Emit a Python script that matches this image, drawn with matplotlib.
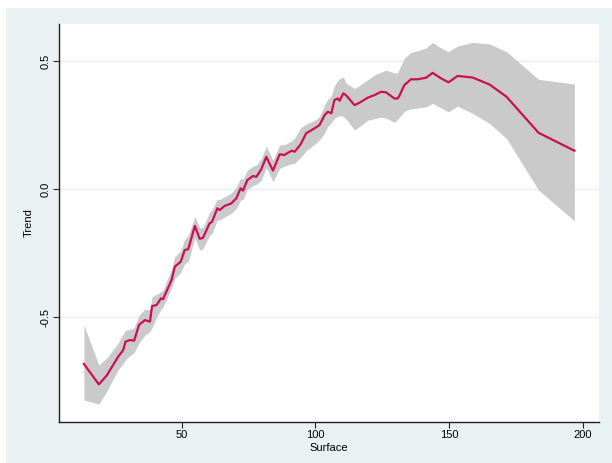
import numpy as np
import matplotlib.pyplot as plt
from matplotlib.patches import Rectangle

plt.rcParams['font.family'] = ['Liberation Sans', 'DejaVu Sans']

# smoothed trend with confidence band
surface = [13.4, 19.0, 21.9, 26.2, 28.1, 29.0, 30.6, 32.2, 34.0, 36.2, 38.1, 38.9, 40.6, 42.2, 43.0,
           46.2, 47.4, 49.6, 51.1, 52.4, 54.9, 56.7, 57.9, 60.4, 61.3, 63.3, 64.2, 66.0, 68.5, 70.4,
           72.0, 72.9, 74.5, 76.6, 77.9, 79.7, 81.6, 84.1, 86.6, 88.4, 89.7, 91.2, 92.2, 94.4, 96.5,
           99.6, 101.5, 103.4, 104.6, 105.9, 107.1, 108.3, 109.0, 110.4, 111.4, 114.6, 116.4, 119.5,
           122.0, 124.5, 126.4, 129.5, 130.7, 131.3, 133.2, 135.7, 138.2, 141.3, 143.8, 146.9, 149.7,
           153.1, 158.7, 165.0, 171.4, 183.4, 196.8]
trend = [-0.682, -0.762, -0.728, -0.654, -0.628, -0.595, -0.589, -0.591, -0.530, -0.511, -0.517,
         -0.456, -0.452, -0.426, -0.429, -0.354, -0.302, -0.283, -0.237, -0.234, -0.143, -0.193,
         -0.190, -0.133, -0.127, -0.074, -0.081, -0.065, -0.055, -0.035, 0.004, -0.005, 0.036,
         0.052, 0.049, 0.078, 0.127, 0.073, 0.137, 0.134, 0.143, 0.151, 0.147, 0.175, 0.219, 0.238,
         0.251, 0.290, 0.303, 0.297, 0.349, 0.355, 0.346, 0.375, 0.368, 0.329, 0.338, 0.358, 0.368,
         0.381, 0.379, 0.355, 0.355, 0.364, 0.407, 0.430, 0.430, 0.436, 0.455, 0.434, 0.418, 0.443,
         0.437, 0.410, 0.362, 0.221, 0.151]
upper = [-0.530, -0.686, -0.660, -0.600, -0.565, -0.550, -0.548, -0.540, -0.492, -0.468, -0.470,
         -0.419, -0.410, -0.400, -0.395, -0.310, -0.263, -0.240, -0.195, -0.180, -0.107, -0.150,
         -0.150, -0.090, -0.080, -0.038, -0.040, -0.029, -0.015, 0.010, 0.043, 0.040, 0.075, 0.090,
         0.095, 0.120, 0.169, 0.114, 0.173, 0.175, 0.182, 0.190, 0.200, 0.240, 0.255, 0.268, 0.285,
         0.330, 0.352, 0.365, 0.405, 0.425, 0.432, 0.440, 0.414, 0.394, 0.405, 0.428, 0.446, 0.458,
         0.466, 0.455, 0.455, 0.470, 0.512, 0.535, 0.542, 0.552, 0.574, 0.552, 0.538, 0.560, 0.574,
         0.568, 0.538, 0.430, 0.411]
lower = [-0.823, -0.839, -0.790, -0.705, -0.680, -0.665, -0.650, -0.638, -0.600, -0.570, -0.556,
         -0.540, -0.500, -0.470, -0.460, -0.385, -0.348, -0.325, -0.290, -0.283, -0.190, -0.238,
         -0.232, -0.180, -0.172, -0.120, -0.120, -0.108, -0.094, -0.075, -0.042, -0.040, 0.000,
         0.015, 0.020, 0.035, 0.085, 0.030, 0.082, 0.090, 0.095, 0.100, 0.101, 0.125, 0.150, 0.175,
         0.193, 0.220, 0.245, 0.260, 0.278, 0.285, 0.288, 0.285, 0.275, 0.232, 0.245, 0.270, 0.276,
         0.282, 0.278, 0.262, 0.273, 0.280, 0.305, 0.315, 0.318, 0.322, 0.336, 0.318, 0.303, 0.325,
         0.297, 0.258, 0.199, -0.003, -0.123]

xticks = [50, 100, 150, 200]
yticks = [-0.5, 0.0, 0.5]
ytick_labels = ['-0.5', '0.0', '0.5']

bg = '#EAF1F3'

fig = plt.figure(figsize=(6.12, 4.63), dpi=100)
fig.patch.set_facecolor('white')
fig.patches.append(Rectangle((6 / 612, 0), 1, 1 - 8 / 463, transform=fig.transFigure,
                             facecolor=bg, edgecolor='none', zorder=-1))
ax = fig.add_axes([59 / 612, 41 / 463, 540 / 612, 398 / 463])
ax.set_facecolor('white')

ax.fill_between(surface, lower, upper, color='#C8C8C8', alpha=0.95, linewidth=0, zorder=2)
ax.plot(surface, trend, color='#CC0F55', linewidth=1.6, zorder=3)

ax.set_xlim(4.1, 206)
ax.set_ylim(-0.909, 0.646)
ax.set_xticks(xticks)
ax.set_yticks(yticks)
ax.set_yticklabels(ytick_labels, rotation=90, va='center')
for y in yticks:
    ax.axhline(y, color='#E6EFF1', linewidth=1, zorder=1)

for s in ['top', 'right']:
    ax.spines[s].set_visible(False)
for s in ['left', 'bottom']:
    ax.spines[s].set_color('#222222')
    ax.spines[s].set_linewidth(1)
ax.tick_params(length=4, width=0.8, color='#222222', labelsize=8, pad=2)
ax.set_xlabel('Surface', fontsize=8, labelpad=2)
ax.set_ylabel('Trend', fontsize=8, labelpad=5)

fig.savefig('out.png', dpi=100, facecolor=fig.get_facecolor())
